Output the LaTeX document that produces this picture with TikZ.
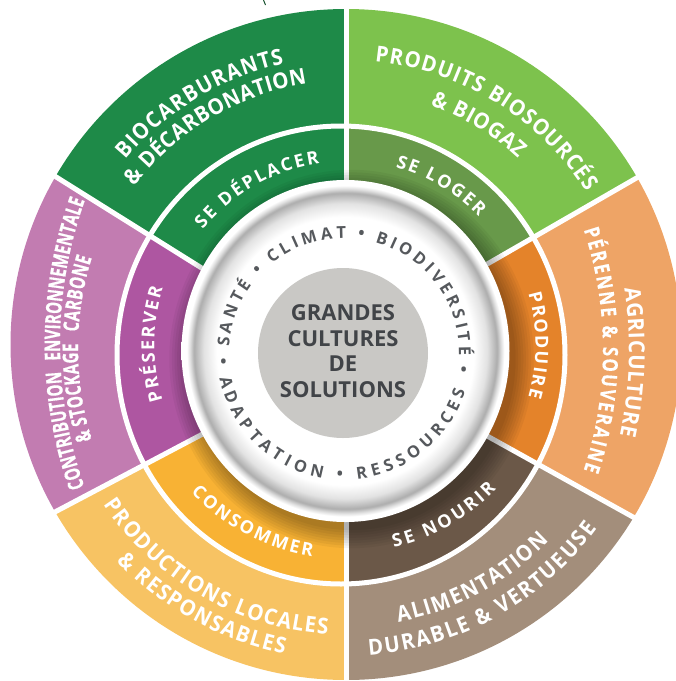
\documentclass[tikz,border=0pt]{standalone}
\usepackage{fontspec}
\setmainfont{Open Sans}
\newfontfamily\lblfont{Open Sans}[FakeStretch=0.93]
\newfontfamily\condfont{Open Sans}[FakeStretch=0.7,FakeBold=0.6]
\newfontfamily\semicondfont{Open Sans}[FakeStretch=0.8,FakeBold=0.4]
\usetikzlibrary{decorations.text}

\definecolor{dkgreen}{HTML}{1E8A48}
\definecolor{ltgreen}{HTML}{7DC24D}
\definecolor{midgreen}{HTML}{68994A}
\definecolor{ltorange}{HTML}{EEA466}
\definecolor{midorange}{HTML}{E4832A}
\definecolor{ltbrown}{HTML}{A38E7B}
\definecolor{midbrown}{HTML}{6B5848}
\definecolor{ltyellow}{HTML}{F7C363}
\definecolor{midyellow}{HTML}{F8B234}
\definecolor{ltpurple}{HTML}{C27CB1}
\definecolor{midpurple}{HTML}{AE56A1}
\definecolor{discgrey}{HTML}{C9C8C5}
\definecolor{titlegrey}{HTML}{414448}
\definecolor{ringgrey}{HTML}{56595D}
\definecolor{rimgrey}{HTML}{ADADAD}

\pgfdeclareradialshading{discrim}{\pgfpoint{0bp}{0bp}}{%
  color(0bp)=(white); color(19.6bp)=(white); color(21.6bp)=(rimgrey!35!white);
  color(23.1bp)=(rimgrey); color(23.7bp)=(rimgrey!40!white); color(24.2bp)=(white);
  color(25bp)=(white); color(50bp)=(white)}

\newcommand\outerfnt{\lblfont\bfseries\fontsize{22}{22}\selectfont}
\newcommand\condfnt{\condfont\bfseries\fontsize{21.5}{21.5}\selectfont}
\newcommand\semicondfnt{\semicondfont\bfseries\fontsize{21}{21}\selectfont}
\newcommand\midfnt{\bfseries\fontsize{18}{18}\selectfont}
\newcommand\ringfnt{\bfseries\fontsize{16.5}{16.5}\selectfont}

% #1 centre, #2 start angle, #3 end angle, #4 radius, #5 colour, #6 font, #7 text
\newcommand\arclabel[7]{\path[decorate,decoration={text along path,
  text align=fit to path,text color=#5,text={|#6|#7}}]
  ([shift={(#1)}]#2:#4) arc[start angle=#2,end angle=#3,radius=#4];}

\tikzset{
  gapline/.style={white,line width=5pt},
  titletext/.style={align=center,inner sep=0pt,text=titlegrey,
    font=\bfseries\fontsize{22}{25.7}\selectfont},
  ringdot/.style={inner sep=0pt,text=ringgrey,font=\bfseries\fontsize{16.5}{16.5}\selectfont}
}

\begin{document}
\begin{tikzpicture}[x=1pt,y=1pt]
\useasboundingbox (0,0) rectangle (676,-681);

\coordinate (C) at (346,-345);
\coordinate (T) at (344,-353);
\coordinate (CLa) at (488,-344);
\coordinate (CLb) at (383,-348.5);
\coordinate (CR) at (218,-350);
% sector boundaries
\coordinate (b90i) at (346,-250);   \coordinate (b90o) at (346,400);
\coordinate (b30i) at (431.4,-296.2); \coordinate (b30o) at (1065,69);
\coordinate (b330i) at (431.4,-405);  \coordinate (b330o) at (1065,-757);
\coordinate (b270i) at (346,-450);  \coordinate (b270o) at (346,-1200);
\coordinate (b210i) at (254.6,-406.6); \coordinate (b210o) at (-379,-741);
\coordinate (b150i) at (258.8,-303.8); \coordinate (b150o) at (-388,101);

% outer ring
\begin{scope}
  \clip (346,-344.5) circle (335.5);
  \fill[dkgreen] (b90i) -- (b90o) -- (-600,400) -- (b150o) -- (b150i) -- cycle;
  \fill[ltgreen] (b90i) -- (b90o) -- (1200,400) -- (b30o) -- (b30i) -- cycle;
  \fill[ltorange] (b30i) -- (b30o) -- (1300,69) -- (1300,-757) -- (b330o) -- (b330i) -- cycle;
  \fill[ltbrown] (b330i) -- (b330o) -- (1065,-1200) -- (b270o) -- (b270i) -- cycle;
  \fill[ltyellow] (b270i) -- (b270o) -- (-600,-1200) -- (b210o) -- (b210i) -- cycle;
  \fill[ltpurple] (b150i) -- (b150o) -- (-600,101) -- (-600,-741) -- (b210o) -- (b210i) -- cycle;
\end{scope}
% middle ring
\begin{scope}
  \clip (341,-355) ellipse [x radius=224, y radius=229];
  \fill[dkgreen] (b90i) -- (b90o) -- (-600,400) -- (b150o) -- (b150i) -- cycle;
  \fill[midgreen] (b90i) -- (b90o) -- (1200,400) -- (b30o) -- (b30i) -- cycle;
  \fill[midorange] (b30i) -- (b30o) -- (1300,69) -- (1300,-757) -- (b330o) -- (b330i) -- cycle;
  \fill[midbrown] (b330i) -- (b330o) -- (1065,-1200) -- (b270o) -- (b270i) -- cycle;
  \fill[midyellow] (b270i) -- (b270o) -- (-600,-1200) -- (b210o) -- (b210i) -- cycle;
  \fill[midpurple] (b150i) -- (b150o) -- (-600,101) -- (-600,-741) -- (b210o) -- (b210i) -- cycle;
\end{scope}
% white gaps
\draw[gapline] (341,-355) ellipse [x radius=224, y radius=229];
\draw[gapline] (b90i) -- (b90o);
\draw[gapline] (b30i) -- (b30o);
\draw[gapline] (b330i) -- (b330o);
\draw[gapline] (b270i) -- (b270o);
\draw[gapline] (b210i) -- (b210o);
\draw[gapline] (b150i) -- (b150o);
% soft shadow of the disc on the middle ring
\begin{scope}
  \clip (341,-355) ellipse [x radius=221.5, y radius=226.5];
  \foreach \k in {0,...,7}
    \fill[black,opacity=0.045] (351.5,-359) ellipse [x radius={164+2.6*\k}, y radius={171+2.6*\k}];
\end{scope}
% central disc
\shade[shading=discrim] (345.5,-351) ellipse [x radius=164, y radius=171];
\fill[discgrey] (343,-353) circle (85);
\node[titletext] (title) at (343,-351) {GRANDES\\CULTURES\\DE\\SOLUTIONS};

% ring words
\arclabel{T}{176.9}{-1.1}{115}{ringgrey}{\ringfnt}{SANTÉ • CLIMAT • BIODIVERSITÉ}
\arclabel{T}{191.4}{342.8}{127}{ringgrey}{\ringfnt}{ADAPTATION • RESSOURCES}
\node[ringdot] (dotL) at ([shift={(T)}]184.7:121) {•};
\node[ringdot] (dotR) at ([shift={(T)}]351.3:121) {•};

% middle ring labels
\arclabel{C}{141.2}{98.3}{183.6}{white}{\midfnt}{SE DÉPLACER}
\arclabel{C}{74.4}{44}{184.6}{white}{\midfnt}{SE LOGER}
\arclabel{C}{15.8}{-15.9}{189.5}{white}{\midfnt}{PRODUIRE}
\arclabel{C}{-76.7}{-43.8}{208.4}{white}{\midfnt}{SE NOURIR}
\arclabel{C}{223.6}{260.9}{214}{white}{\midfnt}{CONSOMMER}
\arclabel{C}{196.8}{162.8}{191.6}{white}{\midfnt}{PRÉSERVER}

% outer ring labels
\arclabel{C}{140}{102.4}{288}{white}{\outerfnt}{BIOCARBURANTS}
\arclabel{C}{143.1}{98.5}{264}{white}{\outerfnt}{{\&} DÉCARBONATION}
\arclabel{C}{84.2}{32.5}{285}{white}{\outerfnt}{PRODUITS BIOSOURCÉS}
\arclabel{C}{70.6}{47.2}{254}{white}{\outerfnt}{{\&} BIOGAZ}
\arclabel{CR}{8.6}{-12.1}{411}{white}{\outerfnt}{AGRICULTURE}
\arclabel{CR}{18.2}{-18.2}{385}{white}{\semicondfnt}{PÉRENNE {\&} SOUVERAINE}
\arclabel{C}{-79.3}{-44}{282}{white}{\outerfnt}{ALIMENTATION}
\arclabel{C}{-85.8}{-36.2}{311}{white}{\outerfnt}{DURABLE {\&} VERTUEUSE}
\arclabel{C}{213.4}{266.4}{290}{white}{\outerfnt}{PRODUCTIONS LOCALES}
\arclabel{C}{223.3}{258.7}{315}{white}{\outerfnt}{{\&} RESPONSABLES}
\arclabel{CLa}{199.5}{160.4}{428}{white}{\condfnt}{CONTRIBUTION{\hspace{0.5em}}ENVIRONNEMENTALE}
\arclabel{CLb}{197.4}{162.7}{305}{white}{\condfnt}{{\&} STOCKAGE{\hspace{0.5em}}CARBONE}

% small stem mark at the top edge
\draw[line width=1pt,color=dkgreen!55!black] (263.5,0) -- (265.5,-5);
\end{tikzpicture}
\end{document}
